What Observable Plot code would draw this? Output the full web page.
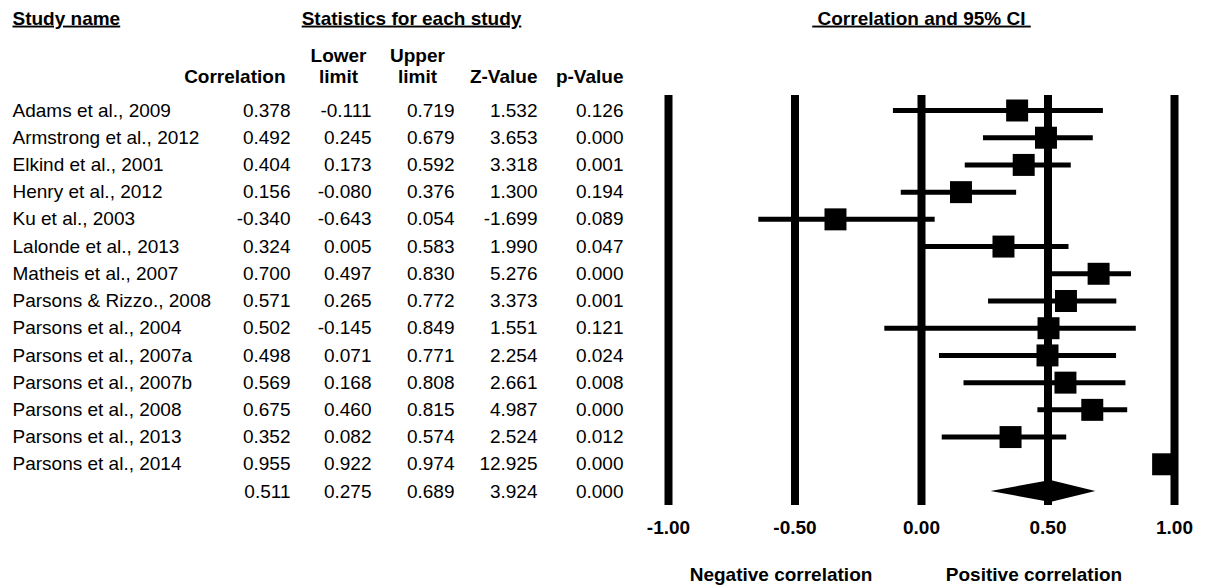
<!DOCTYPE html>
<html>
<head>
<meta charset="utf-8">
<script src="https://cdn.jsdelivr.net/npm/d3@7"></script>
<script src="https://cdn.jsdelivr.net/npm/@observablehq/plot@0.6"></script>
<style>
  html, body { margin: 0; padding: 0; background: white; }
  .ul text { text-decoration: underline; white-space: pre; }
</style>
</head>
<body>
<div id="chart"></div>
<script>
// ---- data ----
const studies = [
  "Adams et al., 2009", "Armstrong et al., 2012", "Elkind et al., 2001",
  "Henry et al., 2012", "Ku et al., 2003", "Lalonde et al., 2013",
  "Matheis et al., 2007", "Parsons & Rizzo., 2008", "Parsons et al., 2004",
  "Parsons et al., 2007a", "Parsons et al., 2007b", "Parsons et al., 2008",
  "Parsons et al., 2013", "Parsons et al., 2014"
];
const correlation = [0.378, 0.492, 0.404, 0.156, -0.340, 0.324, 0.700, 0.571, 0.502, 0.498, 0.569, 0.675, 0.352, 0.955];
const lowerLimit  = [-0.111, 0.245, 0.173, -0.080, -0.643, 0.005, 0.497, 0.265, -0.145, 0.071, 0.168, 0.460, 0.082, 0.922];
const upperLimit  = [0.719, 0.679, 0.592, 0.376, 0.054, 0.583, 0.830, 0.772, 0.849, 0.771, 0.808, 0.815, 0.574, 0.974];
const zValue      = [1.532, 3.653, 3.318, 1.300, -1.699, 1.990, 5.276, 3.373, 1.551, 2.254, 2.661, 4.987, 2.524, 12.925];
const pValue      = [0.126, 0.000, 0.001, 0.194, 0.089, 0.047, 0.000, 0.001, 0.121, 0.024, 0.008, 0.000, 0.012, 0.000];
// overall (summary) row: correlation, lower, upper, Z, p
const summaryStats = [0.511, 0.275, 0.689, 3.924, 0.000];
const axisTicks = [-1, -0.5, 0, 0.5, 1];
const sideLabels = ["Negative correlation", "Positive correlation"];
const sideLabelAt = [-0.5, 0.5];

// ---- tables built from the arrays ----
const rows = studies.map((name, i) => ({
  i, name, r: correlation[i], lo: lowerLimit[i], hi: upperLimit[i], z: zValue[i], p: pValue[i]
}));
const nS = studies.length;
const summary = {i: nS, name: "", r: summaryStats[0], lo: summaryStats[1], hi: summaryStats[2], z: summaryStats[3], p: summaryStats[4]};
const allRows = [...rows, summary];
const half = 0.40; // diamond half-height in rows
const diamond = [
  {x: summary.lo, y1: nS, y2: nS},
  {x: summary.r, y1: nS - half, y2: nS + half},
  {x: summary.hi, y1: nS, y2: nS}
];
const side = sideLabels.map((t, k) => ({t, x: sideLabelAt[k]}));

const fmt3 = v => v.toFixed(3);
const ML = 668;
const numCols = [
  {key: "r", right: 290},
  {key: "lo", right: 371},
  {key: "hi", right: 454},
  {key: "z", right: 537},
  {key: "p", right: 623}
];
const headers = [
  {t: "Correlation", x: 285, y: 76, a: "end"},
  {t: "Lower", x: 338, y: 55, a: "middle"},
  {t: "limit", x: 338, y: 76, a: "middle"},
  {t: "Upper", x: 417, y: 55, a: "middle"},
  {t: "limit", x: 417, y: 76, a: "middle"},
  {t: "Z-Value", x: 537, y: 76, a: "end"},
  {t: "p-Value", x: 623, y: 76, a: "end"}
];
const TOP = 95;

const marks = [
  Plot.ruleX(axisTicks, {stroke: "black", strokeWidth: 8}),
  Plot.ruleY(rows, {y: "i", x1: "lo", x2: "hi", stroke: "black", strokeWidth: 5}),
  Plot.dot(rows, {x: "r", y: "i", symbol: "square", r: 12.4, fill: "black"}),
  Plot.areaY(diamond, {x: "x", y1: "y1", y2: "y2", fill: "black", curve: "linear"}),
  Plot.axisX(axisTicks, {tickSize: 0, tickPadding: 15, tickFormat: d => d.toFixed(2), fontWeight: "bold", label: null}),
  Plot.text(side, {x: "x", text: "t", frameAnchor: "bottom", dy: 69, dx: -14, lineAnchor: "middle", fontWeight: "bold"}),
  // study names
  Plot.text(rows, {y: "i", text: "name", frameAnchor: "left", dx: 12 - ML, textAnchor: "start"}),
  // numeric columns
  ...numCols.map(c => Plot.text(allRows, {y: "i", text: d => fmt3(d[c.key]), frameAnchor: "left", dx: c.right - ML, textAnchor: "end"})),
  // column headers
  ...headers.map(h => Plot.text([h.t], {text: d => d, frameAnchor: "top-left", dx: h.x - ML, dy: h.y - TOP, textAnchor: h.a, lineAnchor: "middle", fontWeight: "bold"})),
  // underlined section headers
  Plot.text(["Study name"], {text: d => d, frameAnchor: "top-left", dx: 12 - ML, dy: 18 - TOP, textAnchor: "start", lineAnchor: "middle", fontWeight: "bold", className: "ul"}),
  Plot.text(["Statistics for each study"], {text: d => d, frameAnchor: "top-left", dx: 411 - ML, dy: 18 - TOP, textAnchor: "middle", lineAnchor: "middle", fontWeight: "bold", className: "ul"}),
  Plot.text([" Correlation and 95% CI "], {text: d => d, frameAnchor: "top", dy: 18 - TOP, textAnchor: "middle", lineAnchor: "middle", fontWeight: "bold", className: "ul"})
];

const chart = Plot.plot({
  width: 1206,
  height: 588,
  marginLeft: ML,
  marginRight: 32,
  marginTop: TOP,
  marginBottom: 83,
  x: {domain: [-1, 1]},
  y: {domain: [-15 / 27.21, nS + 14 / 27.21], reverse: true, axis: null},
  style: {fontFamily: "'Liberation Sans', Arial, Helvetica, sans-serif", fontSize: "19px", color: "black", background: "white", overflow: "visible"},
  marks
});
document.getElementById("chart").appendChild(chart);
</script>
</body>
</html>
